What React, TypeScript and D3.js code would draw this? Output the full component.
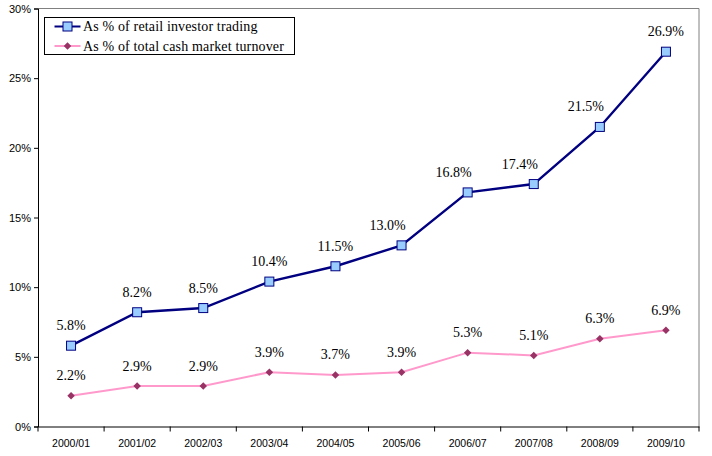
import React, { useEffect, useRef } from 'react';
import * as d3 from 'd3';

const categories = ['2000/01', '2001/02', '2002/03', '2003/04', '2004/05', '2005/06', '2006/07', '2007/08', '2008/09', '2009/10'];
const retailShare = [5.8, 8.2, 8.5, 10.4, 11.5, 13.0, 16.8, 17.4, 21.5, 26.9];
const totalShare = [2.2, 2.9, 2.9, 3.9, 3.7, 3.9, 5.3, 5.1, 6.3, 6.9];
const yTicks = [0, 5, 10, 15, 20, 25, 30];
const seriesNames = ['As % of retail investor trading', 'As % of total cash market turnover'];

const App = () => {
  const ref = useRef<SVGSVGElement>(null);

  useEffect(() => {
    const width = 712;
    const height = 456;
    const margin = { top: 8.5, right: 13, bottom: 29.5, left: 38 };
    const w = width - margin.left - margin.right;
    const h = height - margin.top - margin.bottom;

    const svg = d3.select(ref.current).attr('width', width).attr('height', height);
    svg.selectAll('*').remove();

    const g = svg.append('g').attr('transform', `translate(${margin.left}, ${margin.top})`);

    const x = d3.scaleBand().domain(categories).range([0, w]);
    const y = d3.scaleLinear().domain([0, 30]).range([h, 0]);
    const cx = (d: string) => (x(d) as number) + x.bandwidth() / 2;

    // plot border (top/right grey)
    g.append('path')
      .attr('d', `M0,0H${w}V${h}`)
      .attr('fill', 'none')
      .attr('stroke', '#808080')
      .attr('stroke-width', 1);

    const axisFont = '"Liberation Sans", Arial, sans-serif';

    // Y axis
    const yAxis = g.append('g')
      .call(d3.axisLeft(y).tickValues(yTicks).tickSize(4).tickPadding(3).tickFormat(d => `${d}%`));
    yAxis.select('.domain').attr('stroke', '#000');
    yAxis.selectAll('text')
      .attr('font-family', axisFont)
      .attr('font-size', 11)
      .attr('fill', '#000');

    // X axis
    const xAxis = g.append('g').attr('transform', `translate(0, ${h})`)
      .call(d3.axisBottom(x).tickSize(0).tickPadding(13.5));
    xAxis.select('.domain').attr('stroke', '#000');
    xAxis.selectAll('text')
      .attr('font-family', axisFont)
      .attr('font-size', 10.5)
      .attr('fill', '#000');
    xAxis.selectAll('.bound')
      .data(d3.range(categories.length + 1))
      .join('line')
      .attr('class', 'bound')
      .attr('x1', i => i * x.step())
      .attr('x2', i => i * x.step())
      .attr('y1', 0)
      .attr('y2', 5)
      .attr('stroke', '#000');

    const line = d3.line<number>()
      .x((d, i) => cx(categories[i]))
      .y(d => y(d));

    // Pink series
    g.append('path')
      .datum(totalShare)
      .attr('d', line)
      .attr('fill', 'none')
      .attr('stroke', '#FF99CC')
      .attr('stroke-width', 2);
    g.selectAll('.dia')
      .data(totalShare)
      .join('path')
      .attr('class', 'dia')
      .attr('d', d3.symbol().type(d3.symbolDiamond2).size(36))
      .attr('transform', (d, i) => `translate(${cx(categories[i])}, ${y(d)})`)
      .attr('fill', '#993366');

    // Navy series
    g.append('path')
      .datum(retailShare)
      .attr('d', line)
      .attr('fill', 'none')
      .attr('stroke', '#000080')
      .attr('stroke-width', 2.4);
    g.selectAll('.sq')
      .data(retailShare)
      .join('rect')
      .attr('class', 'sq')
      .attr('x', (d, i) => cx(categories[i]) - 4.5)
      .attr('y', d => y(d) - 4.5)
      .attr('width', 9)
      .attr('height', 9)
      .attr('fill', '#99CCFF')
      .attr('stroke', '#000080')
      .attr('stroke-width', 1);

    // Data labels (a few of the upper labels were nudged left off the line)
    const labelFont = '"Liberation Serif", "Times New Roman", serif';
    const nudged = new Set([5, 6, 7, 8]);
    [retailShare, totalShare].forEach((series, s) => {
      g.selectAll(`.lbl${s}`)
        .data(series)
        .join('text')
        .attr('class', `lbl${s}`)
        .attr('x', (d, i) => cx(categories[i]) - (s === 0 && nudged.has(i) ? 14 : 0))
        .attr('y', d => y(d) - 15.5)
        .attr('text-anchor', 'middle')
        .attr('font-family', labelFont)
        .attr('font-size', 14)
        .attr('fill', '#000')
        .text(d => `${d.toFixed(1)}%`);
    });

    // Legend
    const lg = svg.append('g').attr('transform', 'translate(44.5, 17.5)');
    lg.append('rect')
      .attr('width', 250)
      .attr('height', 37)
      .attr('fill', '#fff')
      .attr('stroke', '#000');
    const rows = [
      { name: seriesNames[0], color: '#000080' },
      { name: seriesNames[1], color: '#FF99CC' },
    ];
    rows.forEach((r, i) => {
      const ry = 9 + i * 19.5;
      lg.append('line')
        .attr('x1', 10).attr('x2', 36)
        .attr('y1', ry).attr('y2', ry)
        .attr('stroke', r.color)
        .attr('stroke-width', 2);
      if (i === 0) {
        lg.append('rect')
          .attr('x', 18.5).attr('y', ry - 4.5)
          .attr('width', 9).attr('height', 9)
          .attr('fill', '#99CCFF').attr('stroke', '#000080');
      } else {
        lg.append('path')
          .attr('d', d3.symbol().type(d3.symbolDiamond2).size(36))
          .attr('transform', `translate(23, ${ry})`)
          .attr('fill', '#993366');
      }
      lg.append('text')
        .attr('x', 38.5)
        .attr('y', ry + 4.5)
        .attr('font-family', labelFont)
        .attr('font-size', 14)
        .attr('letter-spacing', 0.15)
        .attr('fill', '#000')
        .text(r.name);
    });
  }, []);

  return <svg ref={ref} style={{ position: 'absolute', left: 0, top: 0 }}></svg>;
};

export default App;
